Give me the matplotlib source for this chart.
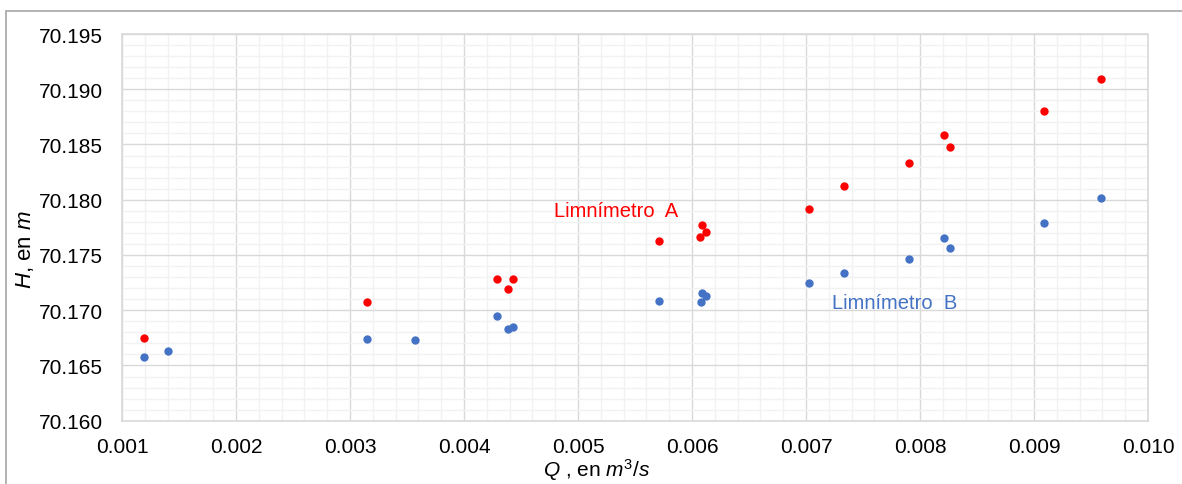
import numpy as np
import matplotlib
matplotlib.use("Agg")
import matplotlib.pyplot as plt
from matplotlib.ticker import MultipleLocator, FormatStrFormatter
from matplotlib.patches import Rectangle

plt.rcParams['font.family'] = ['Liberation Sans', 'DejaVu Sans']
plt.rcParams['mathtext.fontset'] = 'custom'
plt.rcParams['mathtext.rm'] = 'Liberation Sans'
plt.rcParams['mathtext.it'] = 'Liberation Sans:italic'

# Data
q_a = [0.00119, 0.00315, 0.00429, 0.00443, 0.00439, 0.00571, 0.00609, 0.00612,
       0.00607, 0.00703, 0.00733, 0.00790, 0.00821, 0.00826, 0.00909, 0.00959]
h_a = [70.1675, 70.1707, 70.1728, 70.1728, 70.1719, 70.1763, 70.1777, 70.1771,
       70.1766, 70.1792, 70.1812, 70.1833, 70.1859, 70.1848, 70.1880, 70.1909]

q_b = [0.00119, 0.00140, 0.00315, 0.00357, 0.00429, 0.00439, 0.00443, 0.00571, 0.00608,
       0.00609, 0.00612, 0.00703, 0.00733, 0.00790, 0.00821, 0.00826, 0.00909, 0.00959]
h_b = [70.1658, 70.1663, 70.1674, 70.1673, 70.1695, 70.1683, 70.1685, 70.1708, 70.1707,
       70.1716, 70.1713, 70.1725, 70.1734, 70.1746, 70.1765, 70.1756, 70.1779, 70.1802]

red = '#FF0000'
blue = '#4472C4'

fig = plt.figure(figsize=(11.82, 4.85), dpi=100)
ax = fig.add_axes([0.1032, 0.1305, 0.868, 0.7973])

# outer chart border (Excel chart area, cropped)
fig.patches.append(Rectangle((6 / 1182, -0.1), 1.2, 1 - 12 / 485 + 0.1,
                             transform=fig.transFigure, fill=False,
                             edgecolor='#A6A6A6', linewidth=1.2))

ax.scatter(q_b, h_b, s=36, color=blue, zorder=3, linewidths=0)
ax.scatter(q_a, h_a, s=36, color=red, zorder=3, linewidths=0)

ax.set_xlim(0.001, 0.010)
ax.set_ylim(70.160, 70.195)
ax.xaxis.set_major_locator(MultipleLocator(0.001))
ax.xaxis.set_minor_locator(MultipleLocator(0.0002))
ax.yaxis.set_major_locator(MultipleLocator(0.005))
ax.yaxis.set_minor_locator(MultipleLocator(0.001))
ax.xaxis.set_major_formatter(FormatStrFormatter('%.3f'))
ax.yaxis.set_major_formatter(FormatStrFormatter('%.3f'))

ax.grid(which='major', color='#D9D9D9', linewidth=1.0)
ax.grid(which='minor', color='#F2F2F2', linewidth=1.0)
ax.set_axisbelow(True)
ax.tick_params(which='both', length=0, labelsize=15, colors='#000000')
ax.tick_params(axis='y', pad=14)
ax.tick_params(axis='x', pad=12)
for s in ax.spines.values():
    s.set_color('#D9D9D9')
    s.set_linewidth(1.2)

ax.set_xlabel(r'$\mathit{Q}$ , en $\mathit{m^3/s}$', fontsize=15)
ax.xaxis.set_label_coords(0.463, -0.092)
ax.set_ylabel(r'$\mathit{H}$, en $\mathit{m}$', fontsize=16)
ax.yaxis.set_label_coords(-0.0835, 0.445)

ax.text(0.005333, 70.1790, 'Limnímetro  A', color=red, fontsize=14.5,
        ha='center', va='center')
ax.text(0.00778, 70.1707, 'Limnímetro  B', color=blue, fontsize=14.5,
        ha='center', va='center')

fig.savefig('out.png', dpi=100)
